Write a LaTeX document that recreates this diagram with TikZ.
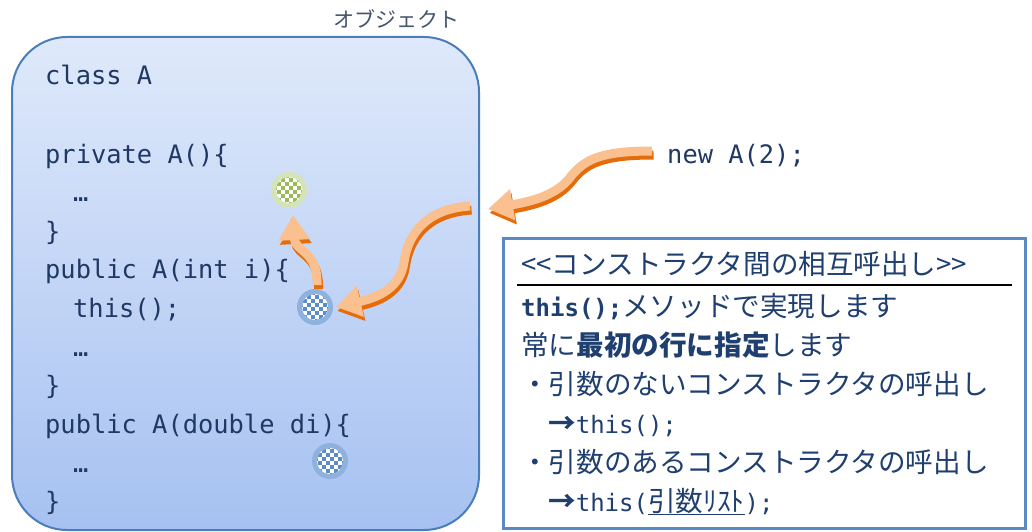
\documentclass[tikz,border=0pt]{standalone}
\usepackage{fontspec}
\usetikzlibrary{arrows.meta}
\newfontfamily\jpf{Noto Sans CJK JP}
\newfontfamily\monof{DejaVu Sans Mono}
\definecolor{codec}{HTML}{1F3864}
\definecolor{boxtext}{HTML}{1F3F70}
\definecolor{labelc}{HTML}{44546A}
\definecolor{objtop}{HTML}{DFE9FB}
\definecolor{objbot}{HTML}{A6C1F1}
\definecolor{objline}{HTML}{4A7EBB}
\definecolor{infoline}{HTML}{5A8AC6}
\definecolor{ordark}{HTML}{E46C0A}
\definecolor{orlight}{HTML}{FAC090}
\definecolor{gring}{HTML}{D5E4B6}
\definecolor{gcheck}{HTML}{9BBB59}
\definecolor{bring}{HTML}{8EB1DD}
\definecolor{bcheck}{HTML}{5B8BCB}
\newcommand\checkdot[2]{%
  \begin{scope}[shift={(#1.center)}]
    \fill[white] (0,0) circle (13pt);
    \clip (0,0) circle (13pt);
    \foreach \i in {-4,...,3}{\foreach \j in {-4,...,3}{%
      \pgfmathtruncatemacro\cpar{mod(\i+\j+10,2)}%
      \ifodd\cpar \fill[#2] (\i*4,\j*4) rectangle ++(4,4); \fi
    }}
  \end{scope}}
\newcommand\ribbonpath[1]{%
  \draw[ribbon,ordark,transform canvas={shift={(1.5pt,-4pt)}}] #1;
  \draw[ribbon,orlight] #1;}
\begin{document}
\begin{tikzpicture}[x=1pt,y=-1pt,
  code/.style={anchor=base west,inner sep=0pt,text=codec,font=\monof\fontsize{25.4}{30}\selectfont},
  info/.style={anchor=base west,inner sep=0pt,text=boxtext,font=\jpf\fontsize{27.6}{32}\selectfont},
  ribbon/.style={line width=9pt,-{Triangle[length=25pt,width=30pt]}},
  dot/.style={circle,minimum size=36pt,inner sep=0pt}]
\useasboundingbox (0,0) rectangle (1032,532);
% object box
\node[draw=objline,line width=2pt,rounded corners=55pt,top color=objtop,bottom color=objbot,
  minimum width=467pt,minimum height=493pt] (obj) at (245.5,283.5) {};
\node[anchor=base west,inner sep=0pt,text=labelc,font=\jpf\fontsize{21}{25}\selectfont] (objlabel) at (333,28) {オブジェクト};
% code
\node[code] (c1) at (45,85) {class A};
\node[code] (c2) at (45,163) {private A()\{};
\node[code] (c3) at (73,201) {…};
\node[code] (c4) at (45,240) {\}};
\node[code] (c5) at (45,278) {public A(int i)\{};
\node[code] (c6) at (73,317) {this();};
\node[code] (c7) at (73,356) {…};
\node[code] (c8) at (45,394) {\}};
\node[code] (c9) at (45,433) {public A(double di)\{};
\node[code] (c10) at (73,472) {…};
\node[code] (c11) at (45,510) {\}};
\node[code] (new) at (667,163) {new A(2);};
% dots
\node[dot,fill=gring] (g1) at (289,190) {};
\node[dot,fill=bring] (b1) at (315,307) {};
\node[dot,fill=bring] (b2) at (330,461) {};
\checkdot{g1}{gcheck}
\checkdot{b1}{bcheck}
\checkdot{b2}{bcheck}
% info box
\node[draw=infoline,line width=3.5pt,fill=white,minimum width=522pt,minimum height=290pt] (infobox) at (764.5,383.5) {};
\draw[line width=1.5pt] (517,285) -- (1012,285);
\node[info] (t0) at (521,274) {<<コンストラクタ間の相互呼出し>>};
\node[info] (t1) at (521,316) {{\monof\bfseries\fontsize{24}{30}\selectfont this();}メソッドで実現します};
\node[info] (t2) at (521,355) {常に{\bfseries 最初の行に指定}します};
\node[info] (t3) at (521,394) {・引数のないコンストラクタの呼出し};
\node[info] (t4) at (548,433) {{\bfseries →}{\monof\fontsize{24}{30}\selectfont this();}};
\node[info] (t5) at (521,472) {・引数のあるコンストラクタの呼出し};
\node[info] (t6) at (548,511) {{\bfseries →}{\monof\fontsize{24}{30}\selectfont this(}\underline{引数ﾘｽﾄ}{\monof\fontsize{24}{30}\selectfont );}};
% arrows
\coordinate (aS) at (652,151);
\coordinate (aE) at (488,209);
\coordinate (bS) at (470,206);
\coordinate (bE) at (336,307);
\coordinate (cS) at (317,285);
\coordinate (cE) at (293,215);
\ribbonpath{(aS) .. controls (600,151) and (585,160) .. (572,175) .. controls (560,192) and (540,200) .. (aE)}
\ribbonpath{(bS) .. controls (425,209) and (408,235) .. (404,262) .. controls (400,290) and (375,298) .. (bE)}
\ribbonpath{(cS) .. controls (318,250) and (295,252) .. (cE)}
\end{tikzpicture}
\end{document}
